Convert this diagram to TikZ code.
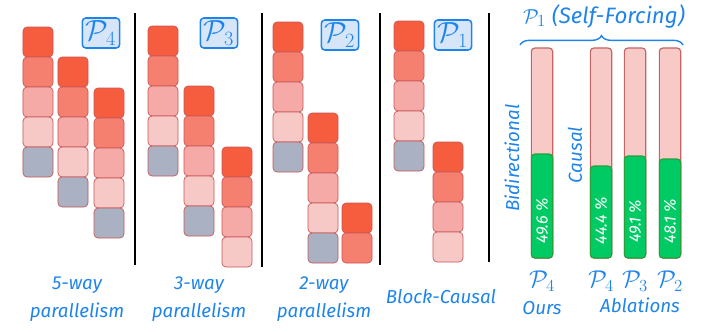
\documentclass[tikz,border=0pt]{standalone}
\usepackage{fontspec}
\setmainfont{Fira Sans}
\usetikzlibrary{decorations.pathreplacing}
\definecolor{hblue}{RGB}{30,132,235}
\definecolor{tagfill}{RGB}{214,230,248}
\definecolor{cellline}{RGB}{200,86,86}
\definecolor{cA}{RGB}{245,93,62}
\definecolor{cB}{RGB}{246,128,111}
\definecolor{cC}{RGB}{246,170,168}
\definecolor{cD}{RGB}{247,201,198}
\definecolor{cG}{RGB}{169,177,194}
\definecolor{barpink}{RGB}{247,202,200}
\definecolor{barline}{RGB}{196,100,100}
\definecolor{wingreen}{RGB}{0,202,100}
\definecolor{winline}{RGB}{40,160,60}
\begin{document}
\begin{tikzpicture}[x=0.03cm,y=-0.03cm,
    cell/.style={draw=cellline,line width=0.6pt,rounded corners=3.5pt,minimum size=0.9cm,inner sep=0pt},
    tag/.style={draw=hblue,fill=tagfill,line width=1.3pt,rounded corners=3pt,minimum width=1.12cm,minimum height=0.9cm,inner sep=0pt,text=hblue,font=\fontsize{23}{25}\selectfont},
    lbl/.style={text=hblue,font=\fontsize{16}{18}\selectfont\itshape},
    barbox/.style={draw=barline,fill=barpink,line width=1pt,rounded corners=3pt,minimum width=0.64cm,inner sep=0pt},
    win/.style={draw=winline,fill=wingreen,line width=1pt,rounded corners=3pt,minimum width=0.64cm,inner sep=0pt},
    pct/.style={rotate=90,text=white,font=\fontsize{14}{16}\selectfont\itshape},
    divider/.style={line width=1.4pt}]
    \useasboundingbox (0,0) rectangle (718,331);
    \foreach \x/\y/\cells [count=\c] in {23/27/{A,B,C,D,G}, 58/57/{A,B,C,D,G}, 94/88/{A,B,C,D,G}, 148/26/{A,B,C,D,G}, 184/86/{A,B,C,D,G}, 222/147/{A,B,C,D}, 273/22/{A,B,C,D,G}, 308/113/{A,B,C,D,G}, 342/203/{A,B}, 394/21/{A,B,C,D,G}, 433/142/{A,B,C,D}} {
        \foreach \k [count=\r] in \cells {
            \node[cell,fill=c\k] (col\c-\r) at (\x+15,\y+15+30*\r-30) {};
        }
    }
    \foreach \x/\a/\b [count=\i] in {135/13/265, 262/13/267, 380/13/265, 489/13/262} {
        \coordinate (div\i a) at (\x,\a);
        \coordinate (div\i b) at (\x,\b);
        \draw[divider] (div\i a) -- (div\i b);
    }
    \foreach \x/\y/\n in {101/33/4, 219/33/3, 340/35/2, 453/35/1} {
        \node[tag] (tag\n) at (\x,\y) {$\mathcal{P}_{\n}$};
    }
    \node[lbl] (way5) at (77,285) {5-way};
    \node[lbl] (par5) at (77,312) {parallelism};
    \node[lbl] (way3) at (199,285) {3-way};
    \node[lbl] (par3) at (199,312) {parallelism};
    \node[lbl] (way2) at (324,285) {2-way};
    \node[lbl] (par2) at (324,312) {parallelism};
    \node[lbl] (blockcausal) at (441,297) {Block-Causal};
    \foreach \x/\h/\v [count=\i] in {542/3.12/49.6, 601/2.76/44.4, 635/3.06/49.1, 670/2.97/48.1} {
        \node[barbox,minimum height=6.3cm] (bar\i) at (\x,153) {};
        \node[win,minimum height=\h cm,anchor=south] (win\i) at (bar\i.south) {};
        \node[pct] (pct\i) at (\x,221) {\v{} \%};
    }
    \foreach \x/\n [count=\i] in {542/4, 601/4, 635/3, 670/2} {
        \node[lbl,font=\fontsize{21}{23}\selectfont] (pname\i) at (\x,281) {$\mathcal{P}_{\n}$};
    }
    \node[lbl] (ours) at (542,308) {Ours};
    \node[lbl] (ablations) at (640,305) {Ablations};
    \node[lbl,rotate=90] (bidir) at (512,158) {Bidirectional};
    \node[lbl,rotate=90] (causal) at (575,155) {Causal};
    \coordinate (bracel) at (520,45);
    \coordinate (bracer) at (683,45);
    \draw[hblue,line width=1.2pt,decorate,decoration={brace,amplitude=8pt}] (bracel) -- (bracer);
    \node[lbl,font=\fontsize{19}{21}\selectfont\itshape] (sf) at (604,16) {$\mathcal{P}_1$ (Self-Forcing)};
\end{tikzpicture}
\end{document}
